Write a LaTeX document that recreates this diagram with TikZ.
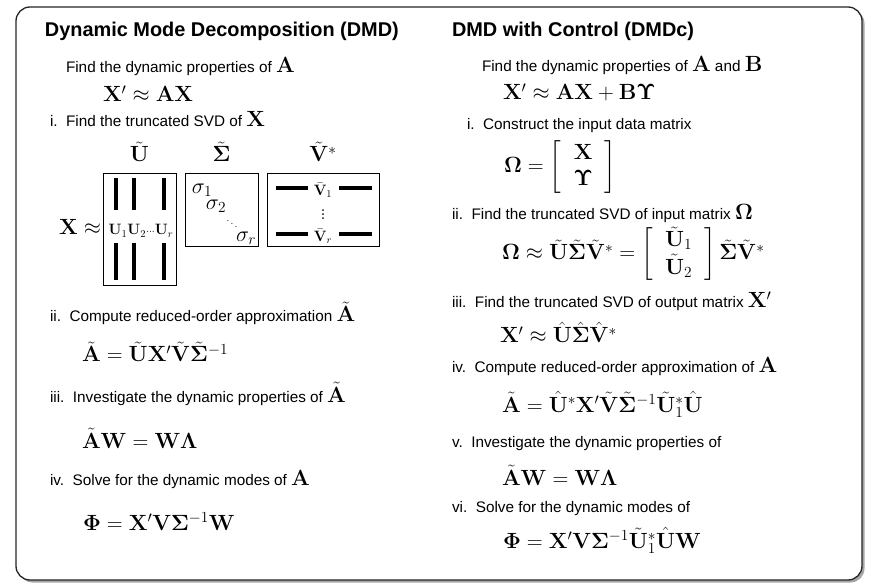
\RequirePackage{fix-cm}
\documentclass[tikz,border=0pt]{standalone}
\usepackage{amsmath}
\usepackage{amssymb}
\usepackage[no-math]{fontspec}
\newfontfamily\arialfont{Liberation Sans}
\usetikzlibrary{positioning, shadows}

% matematicas grandes dentro del texto
\newcommand{\mq}[1]{{\fontsize{22}{26}\selectfont$#1$}}
% columna entre corchetes
\newcommand{\colvec}[2]{\left[\setlength{\arraycolsep}{12pt}\begin{array}{c}#1\\ #2\end{array}\right]}

\begin{document}
\begin{tikzpicture}[
            x=1pt, y=-1pt,
            every node/.style={inner sep=0pt, outer sep=0pt},
            % Estilos de texto
            titulo/.style={anchor=base west, font=\arialfont\bfseries\fontsize{19.9}{23}\selectfont},
            paso/.style={anchor=base west, font=\arialfont\fontsize{15.3}{18}\selectfont},
            ecuacion/.style={anchor=base west, font=\fontsize{22}{26}\selectfont},
            chico/.style={font=\fontsize{15}{18}\selectfont},
            sigma/.style={font=\fontsize{22}{26}\selectfont},
            % Estilos de las cajas SVD
            caja/.style={draw=black, line width=0.8pt, anchor=north west},
            barra/.style={line width=3.4pt},
            marco/.style={draw=black!85, line width=1.3pt, rounded corners=14pt, fill=white, anchor=north west,
                drop shadow={shadow xshift=2.5pt, shadow yshift=-2.5pt, opacity=0.35, fill=black}}
        ]
            \useasboundingbox (0,0) rectangle (879,588);
            \fill[white] (0,0) rectangle (879,588);

            % Marco exterior
            \node (marco) [marco, minimum width=846pt, minimum height=573pt] at (16,7) {};

            % Columna izquierda (DMD)
            \node (dmd) [titulo] at (45,37) {Dynamic Mode Decomposition (DMD)};
            \node (objL) [paso] at (66,73) {Find the dynamic properties of \mq{\mathbf{A}}};
            \node (eqL0) [ecuacion] at (103,102) {$\mathbf{X}'\approx\mathbf{A}\mathbf{X}$};
            \node (stepLi) [paso] at (50,127) {i.\ \ Find the truncated SVD of \mq{\mathbf{X}}};

            % Cajas de la SVD
            \node (ubox) [caja, minimum width=73pt, minimum height=112pt] at (103,173) {};
            \node (sbox) [caja, minimum width=73pt, minimum height=73pt] at (185,173) {};
            \node (vbox) [caja, minimum width=112pt, minimum height=73pt] at (267,173) {};
            \node (lblU) [ecuacion, anchor=base] at (139.5,162) {$\tilde{\mathbf{U}}$};
            \node (lblS) [ecuacion, anchor=base] at (221.5,162) {$\tilde{\mathbf{\Sigma}}$};
            \node (lblV) [ecuacion, anchor=base] at (323,162) {$\tilde{\mathbf{V}}^*$};
            \node (xapprox) [ecuacion, anchor=base east] at (101,235) {$\mathbf{X}\approx$};

            % columnas de U
            \foreach \cx in {116,134,164} {
                \draw [barra] (\cx,178) -- (\cx,210);
                \draw [barra] (\cx,243) -- (\cx,280);
            }
            \node (ucols) [chico, anchor=base] at (141,235) {$\mathbf{U}_1\mathbf{U}_2{\scriptstyle\cdots}\mathbf{U}_r$};

            % valores singulares
            \node (s1) [sigma] at (202,190) {$\sigma_1$};
            \node (s2) [sigma] at (216,206) {$\sigma_2$};
            \node (sdots) [font=\fontsize{10}{12}\selectfont] at (232,221) {$\ddots$};
            \node (sr) [sigma] at (246,238) {$\sigma_r$};

            % filas de V
            \foreach \ry in {188,234} {
                \draw [barra] (276,\ry) -- (308,\ry);
                \draw [barra] (339,\ry) -- (372,\ry);
            }
            \node (v1) [chico] at (323,190) {$\bar{\mathbf{V}}_1$};
            \node (vdots) [font=\fontsize{22}{26}\selectfont] at (323,212) {$\vdots$};
            \node (vr) [chico] at (323,236) {$\bar{\mathbf{V}}_r$};

            % Pasos restantes (DMD)
            \node (stepLii) [paso] at (50,322) {ii.\ \ Compute reduced-order approximation \mq{\tilde{\mathbf{A}}}};
            \node (eqLii) [ecuacion] at (82,362) {$\tilde{\mathbf{A}}=\tilde{\mathbf{U}}\mathbf{X}'\tilde{\mathbf{V}}\tilde{\mathbf{\Sigma}}^{-1}$};
            \node (stepLiii) [paso] at (50,402) {iii.\ \ Investigate the dynamic properties of \mq{\tilde{\mathbf{A}}}};
            \node (eqLiii) [ecuacion] at (82,448) {$\tilde{\mathbf{A}}\mathbf{W}=\mathbf{W}\mathbf{\Lambda}$};
            \node (stepLiv) [paso] at (50,485) {iv.\ \ Solve for the dynamic modes of \mq{\mathbf{A}}};
            \node (eqLiv) [ecuacion] at (83,530) {$\mathbf{\Phi}=\mathbf{X}'\mathbf{V}\mathbf{\Sigma}^{-1}\mathbf{W}$};

            % Columna derecha (DMDc)
            \node (dmdc) [titulo] at (452,37) {DMD with Control (DMDc)};
            \node (objR) [paso] at (482,72) {Find the dynamic properties of \mq{\mathbf{A}} and \mq{\mathbf{B}}};
            \node (eqR0) [ecuacion] at (503,100) {$\mathbf{X}'\approx\mathbf{A}\mathbf{X}+\mathbf{B}\mathbf{\Upsilon}$};
            \node (stepRi) [paso] at (467,130) {i.\ \ Construct the input data matrix};
            \node (eqRi) [ecuacion] at (504,173) {$\mathbf{\Omega}=\colvec{\mathbf{X}}{\mathbf{\Upsilon}}$};
            \node (stepRii) [paso] at (452,220) {ii.\ \ Find the truncated SVD of input matrix \mq{\mathbf{\Omega}}};
            \node (eqRii) [ecuacion] at (502,260) {$\mathbf{\Omega}\approx\tilde{\mathbf{U}}\tilde{\mathbf{\Sigma}}\tilde{\mathbf{V}}^*=\colvec{\tilde{\mathbf{U}}_1}{\tilde{\mathbf{U}}_2}\tilde{\mathbf{\Sigma}}\tilde{\mathbf{V}}^*$};
            \node (stepRiii) [paso] at (452,308) {iii.\ \ Find the truncated SVD of output matrix \mq{\mathbf{X}'}};
            \node (eqRiii) [ecuacion] at (500,343) {$\mathbf{X}'\approx\hat{\mathbf{U}}\hat{\mathbf{\Sigma}}\hat{\mathbf{V}}^*$};
            \node (stepRiv) [paso] at (452,373) {iv.\ \ Compute reduced-order approximation of \mq{\mathbf{A}}};
            \node (eqRiv) [ecuacion] at (502,412) {$\tilde{\mathbf{A}}=\hat{\mathbf{U}}^*\mathbf{X}'\tilde{\mathbf{V}}\tilde{\mathbf{\Sigma}}^{-1}\tilde{\mathbf{U}}_1^*\hat{\mathbf{U}}$};
            \node (stepRv) [paso] at (452,447) {v.\ \ Investigate the dynamic properties of};
            \node (eqRv) [ecuacion] at (502,485) {$\tilde{\mathbf{A}}\mathbf{W}=\mathbf{W}\mathbf{\Lambda}$};
            \node (stepRvi) [paso] at (452,512) {vi.\ \ Solve for the dynamic modes of};
            \node (eqRvi) [ecuacion] at (503,548) {$\mathbf{\Phi}=\mathbf{X}'\mathbf{V}\mathbf{\Sigma}^{-1}\tilde{\mathbf{U}}_1^*\hat{\mathbf{U}}\mathbf{W}$};

        \end{tikzpicture}
\end{document}
